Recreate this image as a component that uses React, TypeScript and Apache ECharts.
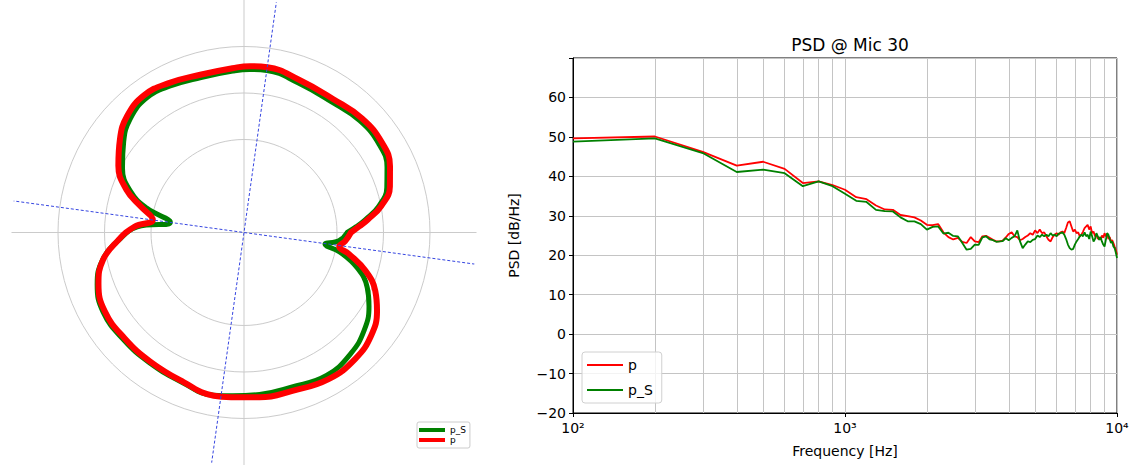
import React, { useEffect, useRef } from 'react';
import * as echarts from 'echarts';

const FONT = 'DejaVu Sans, Verdana, sans-serif';

// ---------- right chart (PSD) ----------
const freqs = [
  100, 200, 300, 400, 500, 600, 700, 800, 900, 1000,
  1100, 1200, 1300, 1400, 1500, 1600, 1700, 1800, 1900, 2000,
  2100, 2200, 2300, 2400, 2500, 2600, 2700, 2800, 2900, 3000,
  3100, 3200, 3300, 3400, 3500, 3600, 3700, 3800, 3900, 4000,
  4100, 4200, 4300, 4400, 4500, 4600, 4700, 4800, 4900, 5000,
  5100, 5200, 5300, 5400, 5500, 5600, 5700, 5800, 5900, 6000,
  6100, 6200, 6300, 6400, 6500, 6600, 6700, 6800, 6900, 7000,
  7100, 7200, 7300, 7400, 7500, 7600, 7700, 7800, 7900, 8000,
  8100, 8200, 8300, 8400, 8500, 8600, 8700, 8800, 8900, 9000,
  9100, 9200, 9300, 9400, 9500, 9600, 9700, 9800, 9900, 10000,
];

const pValues = [
  49.6, 50.1, 46.2, 42.7, 43.7, 41.9, 38.3, 38.7, 37.8, 36.6,
  34.7, 34.2, 32.6, 31.6, 31.5, 30.2, 29.9, 29.6, 28.8, 27.7,
  27.6, 27.9, 25.8, 24.6, 24.0, 24.4, 23.4, 23.1, 24.6, 23.5,
  23.3, 24.8, 24.9, 24.4, 23.9, 23.5, 23.5, 23.7, 24.5, 25.4,
  25.8, 24.8, 24.6, 23.8, 24.1, 24.6, 25.0, 25.6, 25.2, 26.3,
  25.6, 26.5, 25.6, 25.8, 24.8, 23.9, 23.5, 24.6, 25.2, 25.6,
  25.2, 25.8, 26.0, 25.6, 26.9, 28.3, 28.6, 27.3, 26.0, 26.5,
  25.6, 25.8, 24.8, 25.2, 26.0, 26.9, 27.3, 27.7, 26.5, 27.3,
  25.6, 26.0, 24.8, 25.2, 24.1, 24.6, 23.9, 25.0, 24.4, 25.6,
  24.8, 25.5, 24.1, 24.6, 23.5, 23.8, 23.1, 22.2, 21.4, 20.1,
];

const pSValues = [
  48.8, 49.6, 45.9, 41.1, 41.7, 40.8, 37.5, 38.7, 37.5, 35.6,
  33.8, 33.5, 31.5, 31.2, 31.1, 29.6, 28.6, 28.6, 27.9, 26.5,
  27.2, 27.3, 25.5, 25.7, 24.9, 24.8, 23.1, 21.4, 21.6, 22.7,
  22.6, 24.5, 24.8, 24.0, 23.8, 23.4, 23.5, 23.6, 24.3, 23.8,
  24.4, 24.8, 26.3, 23.5, 21.8, 22.7, 23.5, 23.3, 23.9, 24.1,
  25.0, 24.6, 25.2, 24.8, 25.2, 24.8, 25.6, 25.0, 25.2, 24.8,
  25.5, 25.6, 25.8, 25.2, 24.1, 22.7, 21.8, 21.4, 21.6, 22.7,
  23.5, 24.1, 24.8, 25.2, 24.8, 25.8, 24.8, 25.2, 24.1, 26.0,
  24.8, 23.5, 24.1, 25.6, 24.8, 23.9, 24.6, 23.5, 22.7, 22.2,
  23.9, 25.6, 25.2, 24.1, 23.1, 23.5, 22.2, 21.8, 20.7, 19.3,
];

const minorFreqs = [200, 300, 400, 500, 600, 700, 800, 900, 2000, 3000, 4000, 5000, 6000, 7000, 8000, 9000];
const xLabels: Record<number, string> = { 100: '10²', 1000: '10³', 10000: '10⁴' };

// ---------- left chart (polar) ----------
const polarAngles = [
  0, 3, 6, 11, 17.5, 24.5, 33, 44, 56.5, 70,
  82, 88, 94, 105.5, 117, 126, 135, 143, 152, 160,
  166, 172, 177, 183.5, 191, 199.5, 209.5, 221.5, 234, 248,
  259.5, 266, 275.5, 287, 300, 311.5, 321, 329.5, 336, 342.5,
  348.5, 351.7, 355, 360,
];
const polarP = [
  2.30, 2.48, 2.68, 3.01, 3.29, 3.45, 3.54, 3.53, 3.45, 3.49,
  3.59, 3.58, 3.54, 3.52, 3.60, 3.65, 3.55, 3.34, 3.06, 2.69,
  2.28, 1.98, 2.36, 2.71, 3.09, 3.32, 3.44, 3.43, 3.43, 3.47,
  3.57, 3.55, 3.56, 3.56, 3.64, 3.62, 3.52, 3.32, 3.09, 2.74,
  2.30, 2.07, 2.18, 2.30,
];
const polarPS = [
  2.22, 2.42, 2.62, 2.95, 3.22, 3.38, 3.47, 3.46, 3.38, 3.42,
  3.52, 3.51, 3.48, 3.46, 3.53, 3.57, 3.46, 3.24, 2.96, 2.60,
  2.15, 1.60, 2.30, 2.70, 3.10, 3.35, 3.48, 3.47, 3.46, 3.49,
  3.56, 3.52, 3.50, 3.48, 3.55, 3.47, 3.33, 3.12, 2.90, 2.56,
  2.10, 1.76, 2.05, 2.22,
];
const guideAnglesA = [82, 262];
const guideAnglesB = [172.2, 352.2];
const guideRadius = 5.05;

const RED = '#ff0000';
const GREEN = '#008000';
const GRID = '#c4c4c4';

function buildOption(): any {
  return {
    animation: false,
    textStyle: { fontFamily: FONT },
    title: {
      text: 'PSD @ Mic 30',
      left: 845,
      top: 31,
      textAlign: 'center',
      textStyle: { fontFamily: FONT, fontSize: 17, fontWeight: 'normal', color: '#000' },
    },
    legend: [
      {
        left: 417,
        top: 422,
        orient: 'vertical',
        icon: 'rect',
        itemWidth: 26,
        itemHeight: 4,
        itemGap: 0,
        itemTextGap: 6,
        padding: [3, 4, 3, 2],
        borderColor: '#cccccc',
        borderWidth: 1,
        borderRadius: 2,
        textStyle: { fontFamily: FONT, fontSize: 9, lineHeight: 10, color: '#000' },
        data: [
          { name: 'p_S', itemStyle: { color: GREEN } },
          { name: 'p', itemStyle: { color: RED } },
        ],
        selectedMode: false,
      },
      {
        left: 582,
        top: 352,
        orient: 'vertical',
        icon: 'rect',
        itemWidth: 36,
        itemHeight: 2,
        itemGap: 11,
        itemTextGap: 10,
        padding: [6, 9, 6, 5],
        borderColor: '#d0d0d0',
        borderWidth: 1,
        borderRadius: 3,
        backgroundColor: 'rgba(255,255,255,0.8)',
        textStyle: { fontFamily: FONT, fontSize: 14, lineHeight: 14, color: '#000' },
        data: [
          { name: 'p', itemStyle: { color: RED } },
          { name: 'p_S', itemStyle: { color: GREEN } },
        ],
        selectedMode: false,
      },
    ],
    polar: { center: [244, 232.5], radius: 232.5 },
    angleAxis: {
      type: 'value',
      min: 0,
      max: 360,
      interval: 90,
      startAngle: 0,
      clockwise: false,
      axisLine: { show: false },
      axisTick: { show: false },
      axisLabel: { show: false },
      splitLine: { show: true, lineStyle: { color: '#cbcbcb', width: 1 } },
    },
    radiusAxis: {
      type: 'value',
      min: 0,
      max: 5,
      interval: 1,
      axisLine: { show: false },
      axisTick: { show: false },
      axisLabel: { show: false },
      splitLine: {
        show: true,
        lineStyle: { color: ['transparent', 'transparent', '#cbcbcb', '#cbcbcb', '#cbcbcb', 'transparent'], width: 1 },
      },
    },
    grid: {
      left: 573,
      top: 58,
      width: 544,
      height: 355,
      show: true,
      borderColor: '#000',
      borderWidth: 1,
    },
    xAxis: {
      type: 'log',
      logBase: 10,
      min: 100,
      max: 10000,
      name: 'Frequency [Hz]',
      nameLocation: 'middle',
      nameGap: 31,
      nameTextStyle: { fontFamily: FONT, fontSize: 14, color: '#000' },
      axisLine: { show: true, onZero: false, lineStyle: { color: '#000', width: 1 } },
      axisTick: { show: true, length: 4, lineStyle: { color: '#000' } },
      axisLabel: {
        fontFamily: FONT,
        fontSize: 14,
        color: '#000',
        margin: 8,
        formatter: (v: number) => xLabels[Math.round(v)] || '',
      },
      splitLine: { show: true, lineStyle: { color: GRID, width: 1 } },
    },
    yAxis: {
      type: 'value',
      min: -20,
      max: 70,
      interval: 10,
      name: 'PSD [dB/Hz]',
      nameLocation: 'middle',
      nameGap: 52,
      nameTextStyle: { fontFamily: FONT, fontSize: 14, color: '#000' },
      axisLine: { show: true, onZero: false, lineStyle: { color: '#000', width: 1 } },
      axisTick: { show: true, length: 4, lineStyle: { color: '#000' } },
      axisLabel: {
        fontFamily: FONT,
        fontSize: 14,
        color: '#000',
        margin: 7,
        formatter: (v: number) => (v >= 70 ? '' : v < 0 ? '\u2212' + Math.abs(v) : String(v)),
      },
      splitLine: { show: true, lineStyle: { color: GRID, width: 1 } },
    },
    series: [
      // polar chart
      {
        name: 'p_S',
        type: 'line',
        coordinateSystem: 'polar',
        data: polarAngles.map((a, i) => [polarPS[i], a]),
        smooth: 0.45,
        showSymbol: false,
        symbol: 'none',
        z: 3,
        lineStyle: { color: GREEN, width: 5, join: 'round', cap: 'round' },
        itemStyle: { color: GREEN },
      },
      {
        name: 'p',
        type: 'line',
        coordinateSystem: 'polar',
        data: polarAngles.map((a, i) => [polarP[i], a]),
        smooth: 0.45,
        showSymbol: false,
        symbol: 'none',
        z: 4,
        lineStyle: { color: RED, width: 6, join: 'round', cap: 'round' },
        itemStyle: { color: RED },
      },
      {
        name: 'guideA',
        type: 'line',
        coordinateSystem: 'polar',
        data: guideAnglesA.map((a) => [guideRadius, a]),
        showSymbol: false,
        symbol: 'none',
        z: 6,
        lineStyle: { color: '#3545e0', width: 1, type: [3, 2] },
      },
      {
        name: 'guideB',
        type: 'line',
        coordinateSystem: 'polar',
        data: guideAnglesB.map((a) => [guideRadius, a]),
        showSymbol: false,
        symbol: 'none',
        z: 6,
        lineStyle: { color: '#3545e0', width: 1, type: [3, 2] },
      },
      // PSD chart
      {
        name: 'minorGrid',
        type: 'line',
        xAxisIndex: 0,
        yAxisIndex: 0,
        data: [],
        z: 1,
        markLine: {
          silent: true,
          symbol: 'none',
          z: 1,
          label: { show: false },
          lineStyle: { color: GRID, width: 1, type: 'solid' },
          data: minorFreqs.map((f) => ({ xAxis: f })),
        },
      },
      {
        name: 'p',
        type: 'line',
        xAxisIndex: 0,
        yAxisIndex: 0,
        data: freqs.map((f, i) => [f, pValues[i]]),
        showSymbol: false,
        symbol: 'none',
        z: 3,
        lineStyle: { color: RED, width: 1.8 },
        itemStyle: { color: RED },
      },
      {
        name: 'p_S',
        type: 'line',
        xAxisIndex: 0,
        yAxisIndex: 0,
        data: freqs.map((f, i) => [f, pSValues[i]]),
        showSymbol: false,
        symbol: 'none',
        z: 4,
        lineStyle: { color: GREEN, width: 1.8 },
        itemStyle: { color: GREEN },
      },
    ],
  };
}

export default function App() {
  const ref = useRef<HTMLDivElement>(null);
  useEffect(() => {
    document.body.style.margin = '0';
    const chart = echarts.init(ref.current!, null, { renderer: 'svg' });
    chart.setOption(buildOption());
    return () => chart.dispose();
  }, []);
  return <div ref={ref} style={{ width: 1137, height: 466, background: '#fff' }} />;
}
